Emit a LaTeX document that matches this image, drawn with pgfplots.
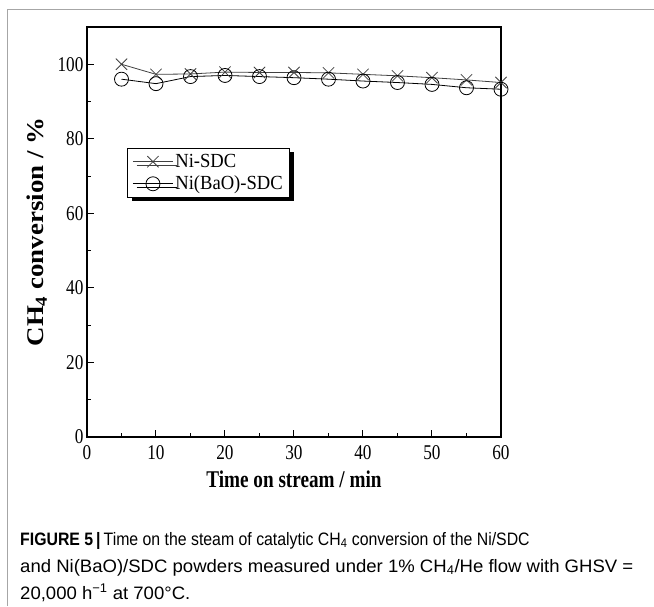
\documentclass[border=0pt]{standalone}
\usepackage{pgfplots}
\pgfplotsset{compat=1.18}
\usepackage{fontspec}
\setmainfont{Liberation Serif}
\newfontfamily\tickfont[FakeStretch=0.82]{Liberation Serif}
\newfontfamily\xlabfont[FakeStretch=0.8]{Liberation Serif}
\newfontfamily\ylabfont[FakeStretch=1.12]{Liberation Serif}
\newfontfamily\legfont[FakeStretch=0.93]{Liberation Serif}
\newfontfamily\capfonta[FakeStretch=0.88]{Liberation Sans}
\newfontfamily\capfontb[FakeStretch=1.03]{Liberation Sans}
\usetikzlibrary{shadows}
\pgfplotsset{legend image code/.code={\draw[#1, mark repeat=2, mark phase=2] plot coordinates {(0pt,0pt) (20pt,0pt) (40pt,0pt)};}}
\begin{document}
\begin{tikzpicture}[x=1pt,y=1pt]
\path[use as bounding box] (0,0) rectangle (654,606);
\draw[gray!70, line width=1pt] (7,0) -- (7,596) -- (654,596);
\begin{axis}[at={(87pt,169pt)}, anchor=south west, scale only axis,
  width=414pt, height=410pt,
  xmin=0, xmax=60, ymin=0, ymax=110,
  xtick={0,10,...,60}, ytick={0,20,...,100},
  minor x tick num=1, minor y tick num=1,
  tick pos=left, tick align=inside,
  major tick length=7pt, minor tick length=4pt,
  every tick/.style={black, line width=1pt},
  axis line style={line width=1.4pt},
  /pgf/number format/assume math mode=true,
  tick label style={font=\tickfont\fontsize{21}{24}\selectfont},
  xticklabel style={yshift=-5pt},
  xlabel={\xlabfont\fontsize{24}{26}\selectfont\bfseries Time on stream / min},
  ylabel={\ylabfont\fontsize{24}{26}\selectfont\bfseries CH\textsubscript{4} conversion / \%},
  xlabel style={yshift=-4pt},
  ylabel style={yshift=4pt},
  legend style={at={(rel axis cs:0.097,0.705)}, anchor=north west,
    draw=black, line width=0.8pt, fill=white,
    drop shadow={shadow xshift=4pt, shadow yshift=-4pt, fill=black, opacity=1},
    font=\legfont\fontsize{20}{22}\selectfont, inner xsep=5pt, inner ysep=4pt, row sep=3pt},
  legend cell align=left,
]
\addplot[black!75, line width=0.8pt, mark=x, mark size=8pt, mark options={line width=0.8pt}]
coordinates {(5,100) (10,97.3) (15,97.4) (20,97.9) (25,97.8) (30,97.8) (35,97.7) (40,97.3) (45,96.9) (50,96.4) (55,95.8) (60,95.1)};
\addlegendentry{Ni-SDC}
\addplot[black, line width=0.8pt, mark=o, mark size=7pt, mark options={line width=0.8pt}]
coordinates {(5,96.0) (10,94.8) (15,96.7) (20,97.0) (25,96.7) (30,96.4) (35,96.0) (40,95.5) (45,95.1) (50,94.6) (55,93.7) (60,93.3)};
\addlegendentry{Ni(BaO)-SDC}
\end{axis}
\node[anchor=base west, inner sep=0] at (20,61) {\capfonta\fontsize{18}{27}\selectfont{\bfseries FIGURE 5\,|\,}Time on the steam of catalytic CH\textsubscript{4} conversion of the Ni/SDC};
\node[anchor=base west, inner sep=0] at (20,34) {\capfontb\fontsize{18}{27}\selectfont and Ni(BaO)/SDC powders measured under 1\% CH\textsubscript{4}/He flow with GHSV =};
\node[anchor=base west, inner sep=0] at (20,7) {\capfontb\fontsize{18}{27}\selectfont 20,000 h\textsuperscript{−1} at 700\textdegree C.};
\end{tikzpicture}
\end{document}
